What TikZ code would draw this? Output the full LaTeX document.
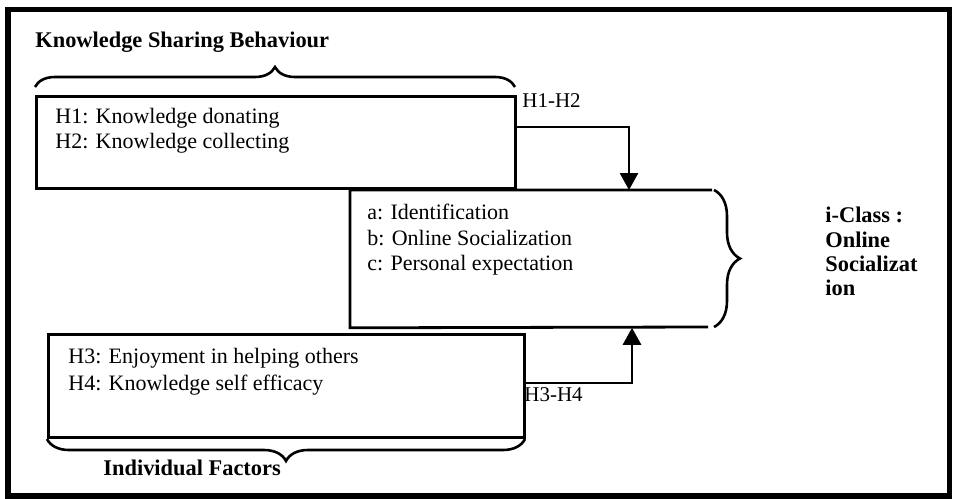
\documentclass[tikz,border=0pt]{standalone}
\usepackage{fontspec}
\setmainfont{Liberation Serif}
\usetikzlibrary{arrows.meta,decorations.pathreplacing}
\begin{document}
\begin{tikzpicture}[x=0.5pt,y=-0.5pt,
  boxline/.style={draw,line width=1.4pt},
  bx/.style={boxline,rectangle,inner sep=0pt},
  txt/.style={inner sep=0pt,anchor=base west,font=\fontsize{11}{12}\selectfont},
  btxt/.style={inner sep=0pt,anchor=base west,font=\fontsize{11.2}{12}\selectfont\bfseries},
  lbl/.style={inner sep=0pt,anchor=base west,font=\fontsize{10.5}{12}\selectfont},
  brc/.style={draw,line width=1.3pt,decorate,decoration={brace,amplitude=#1}},
  arr/.style={draw,line width=1.4pt,-{Triangle[width=9pt,length=8.5pt]}}]
\useasboundingbox (0,0) rectangle (953,498);
\draw[line width=2.8pt] (8,9.5) rectangle (949.5,496);
% title and box 1
\node[btxt] (t1) at (35,47) {Knowledge Sharing Behaviour};
\draw[brc=10pt] (35,87) -- (515,87);
\node[bx,minimum width=239.5pt,minimum height=46pt,anchor=north west] (box1) at (35,95) {};
\node[txt] (h1) at (55,123) {H1: Knowledge donating};
\node[txt] (h2) at (55,148) {H2: Knowledge collecting};
\node[lbl] (l12) at (522,107) {H1-H2};
% box 2
\node[inner sep=0pt,minimum width=181pt,minimum height=68.5pt,anchor=north west] (box2) at (350,190) {};
\draw[boxline] (712,190) -- (box2.north west) -- (box2.south west) -- (708,327);
\draw[brc=13pt] (714,190) -- (714,327);
\node[txt] (ca) at (367,219) {a: Identification};
\node[txt] (cb) at (367,245) {b: Online Socialization};
\node[txt] (cc) at (367,270) {c: Personal expectation};
\node[btxt] (i1) at (825,222) {i-Class :};
\node[btxt] (i2) at (825,247) {Online};
\node[btxt] (i3) at (825,271) {Socializat};
\node[btxt] (i4) at (825,295) {ion};
% box 3
\node[bx,minimum width=238pt,minimum height=51.5pt,anchor=north west] (box3) at (47,333) {};
\node[txt] (h3) at (68,363) {H3: Enjoyment in helping others};
\node[txt] (h4) at (68,390) {H4: Knowledge self efficacy};
\node[lbl] (l34) at (524,401) {H3-H4};
\draw[brc=11pt] (525,439) -- (47,439);
\node[btxt] (t2) at (103,475) {Individual Factors};
% connectors
\draw[arr] (box1.east |- 0,127) -| (box2.north -| 629,0);
\draw[arr] (box3.east |- 0,383) -| (box2.south -| 632,0);
\end{tikzpicture}
\end{document}
